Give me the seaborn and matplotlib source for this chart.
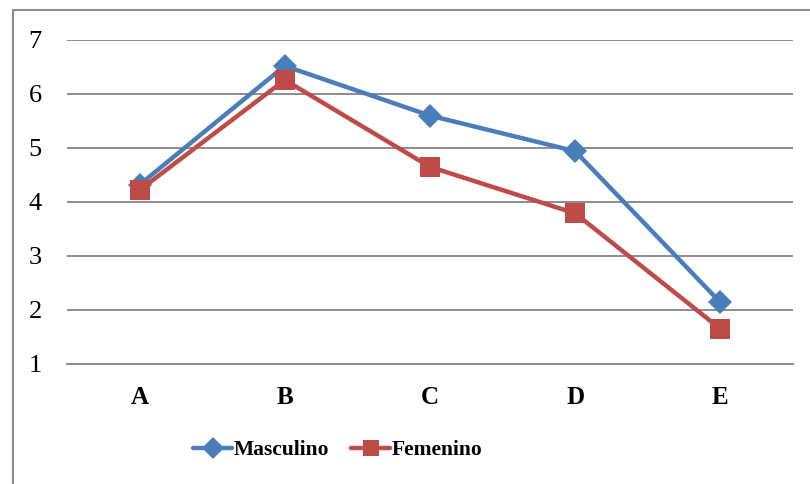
import matplotlib
matplotlib.use("Agg")
import matplotlib.pyplot as plt
import seaborn as sns
import pandas as pd
from matplotlib.lines import Line2D

categories = ["A", "B", "C", "D", "E"]
masculino = [4.32, 6.52, 5.60, 4.94, 2.14]
femenino = [4.22, 6.26, 4.65, 3.79, 1.65]
series_names = ["Masculino", "Femenino"]
y_ticks = [1, 2, 3, 4, 5, 6, 7]

df = pd.DataFrame({
    "cat": categories * 2,
    "x": list(range(len(categories))) * 2,
    "value": masculino + femenino,
    "serie": [series_names[0]] * 5 + [series_names[1]] * 5,
})

sns.set_style("white")
plt.rcParams['font.family'] = ['Liberation Serif', 'DejaVu Serif']
plt.rcParams['text.color'] = 'black'
plt.rcParams['xtick.color'] = 'black'
plt.rcParams['ytick.color'] = 'black'

fig = plt.figure(figsize=(8.1, 4.84), dpi=100)
ax = fig.add_axes([67 / 810, 1 - 364 / 484, 726 / 810, 324 / 484])

palette = {"Masculino": "#4A7EBB", "Femenino": "#BE4B48"}
sns.lineplot(data=df, x="x", y="value", hue="serie", style="serie",
             markers={"Masculino": "D", "Femenino": "s"}, dashes=False,
             palette=palette, linewidth=3.2, markeredgewidth=0,
             ax=ax, legend=False, zorder=3)
# bigger squares than diamonds, like the original
for line, ms in zip(ax.get_lines(), [12.5, 14]):
    line.set_markersize(ms)

ax.set_xlim(-0.5, 4.5)
ax.set_ylim(1, 7)
ax.set_yticks(y_ticks)
ax.set_xticks(range(len(categories)))
ax.set_xticklabels(categories, fontweight="bold")
ax.tick_params(axis="y", length=0, pad=18, labelsize=19, labelcolor="black")
ax.tick_params(axis="x", length=0, pad=16, labelsize=18, labelcolor="black")
ax.yaxis.grid(True, color="#8C8C8C", linewidth=1.4)
ax.set_axisbelow(True)
for s in ["top", "right", "left"]:
    ax.spines[s].set_visible(False)
ax.spines["bottom"].set_color("#8C8C8C")
ax.spines["bottom"].set_linewidth(1.4)
ax.set_xlabel("")
ax.set_ylabel("")

handles = [
    Line2D([], [], color=palette["Masculino"], marker="D", markersize=11,
           markeredgewidth=0, linewidth=3.2),
    Line2D([], [], color=palette["Femenino"], marker="s", markersize=12,
           markeredgewidth=0, linewidth=3.2),
]
fig.legend(handles, series_names, loc="center", bbox_to_anchor=(338 / 810, 1 - 450 / 484),
           ncol=2, frameon=False, handlelength=1.8, handletextpad=0.1,
           columnspacing=1.0, prop={"weight": "bold", "size": 15.5})

# chart frame (top and left visible in the crop)
fig.add_artist(Line2D([13 / 810, 13 / 810], [0, 1 - 10 / 484], color="#8C8C8C",
                      linewidth=1.5, transform=fig.transFigure))
fig.add_artist(Line2D([13 / 810, 1], [1 - 10 / 484, 1 - 10 / 484], color="#8C8C8C",
                      linewidth=1.5, transform=fig.transFigure))

fig.savefig("out.png", dpi=100)
